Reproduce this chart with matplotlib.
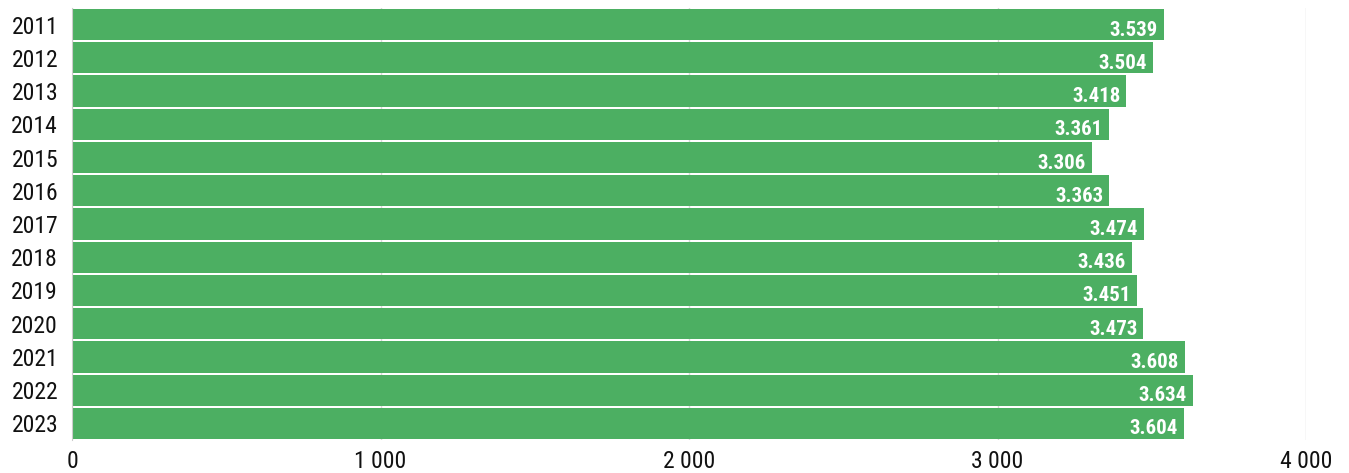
import matplotlib
matplotlib.use("Agg")
import matplotlib.pyplot as plt
import matplotlib.ticker as mticker

years = ['2011', '2012', '2013', '2014', '2015', '2016', '2017',
         '2018', '2019', '2020', '2021', '2022', '2023']
values = [3539, 3504, 3418, 3361, 3306, 3363, 3474,
          3436, 3451, 3473, 3608, 3634, 3604]
xticks = [0, 1000, 2000, 3000, 4000]

plt.rcParams['font.family'] = ['Roboto Condensed', 'DejaVu Sans']

fig = plt.figure(figsize=(13.49, 4.73), dpi=100)
ax = fig.add_axes([72 / 1349, 33 / 473, 1234 / 1349, 432 / 473])

pos = list(range(len(years)))
ax.barh(pos, values, height=0.94, color='#4caf62', zorder=2)

# value labels, dot as thousands separator
for p, v in zip(pos, values):
    lbl = '{:,}'.format(v).replace(',', '.')
    ax.text(v - 20, p + 0.33, lbl, ha='right', va='baseline', color='white',
            fontsize=15, fontweight='bold', zorder=3)

ax.set_xlim(0, 4000)
ax.set_ylim(len(years) - 0.5, -0.5)
ax.set_yticks(pos)
ax.set_yticklabels(years)
ax.set_xticks(xticks)
ax.xaxis.set_major_formatter(mticker.FuncFormatter(lambda x, _: '{:,}'.format(int(x)).replace(',', ' ')))
ax.tick_params(axis='both', length=0, labelsize=17, colors='#111111')
ax.tick_params(axis='x', pad=7)
ax.tick_params(axis='y', pad=10)

ax.grid(axis='x', color='#d9d9d9', linewidth=1, zorder=0)
for s in ['top', 'right', 'bottom']:
    ax.spines[s].set_visible(False)
ax.spines['left'].set_color('#cccccc')

fig.savefig('out.png', dpi=100)
